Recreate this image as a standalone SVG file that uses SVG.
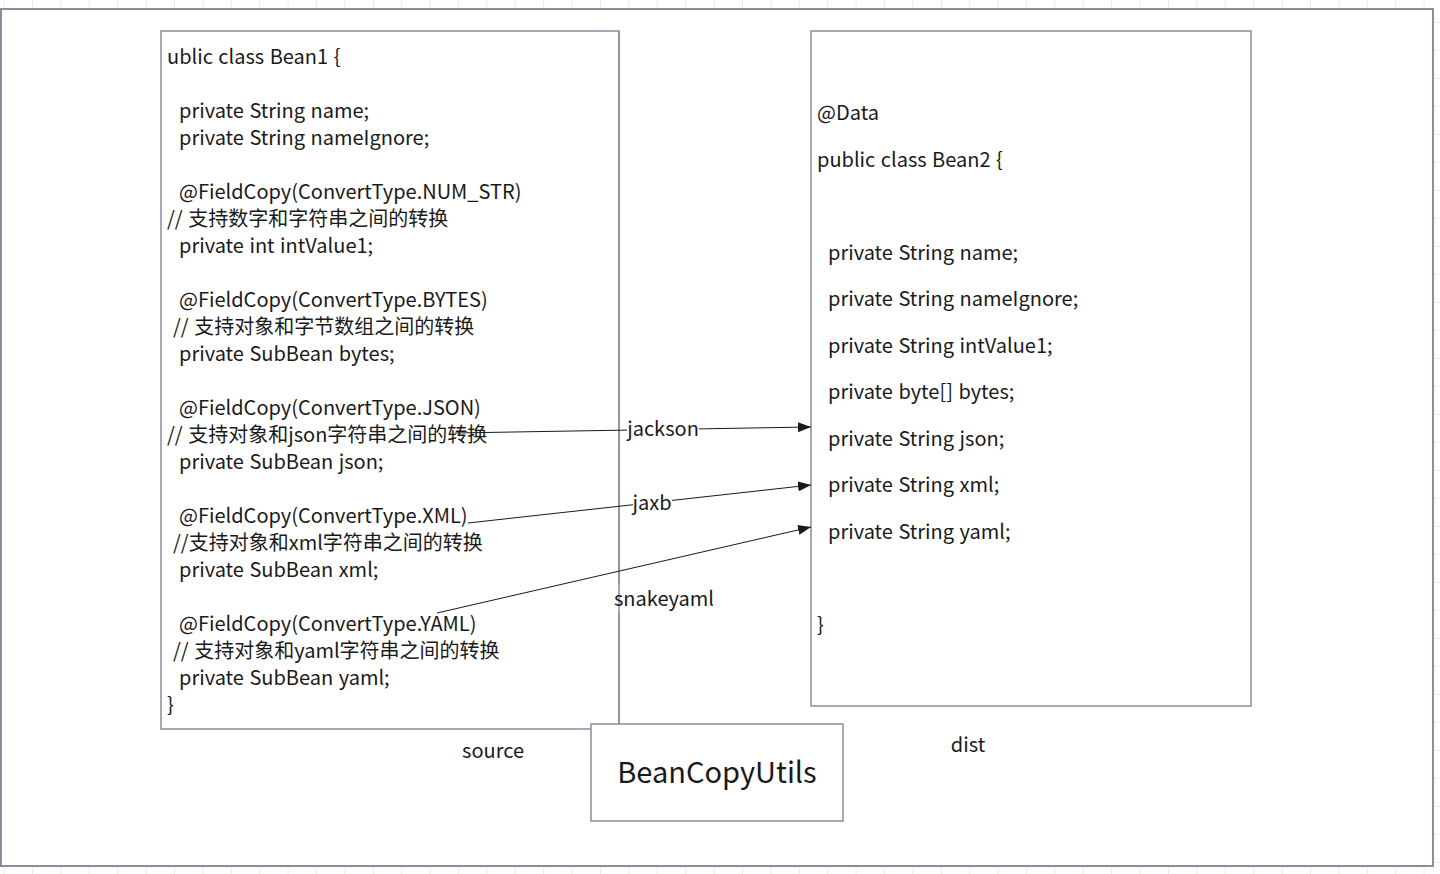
<svg xmlns="http://www.w3.org/2000/svg" width="1440" height="874" viewBox="0 0 1440 874">
<style>
.box{fill:#ffffff;stroke:#8a8ca0;stroke-width:1.5}
.frame{fill:#ffffff;stroke:#8a8ca0;stroke-width:2}
.t{font-family:"Noto Sans CJK SC","Noto Sans",sans-serif;font-size:20px;fill:#1a1a1a;word-spacing:1px}
.big{font-family:"Noto Sans CJK SC","Noto Sans",sans-serif;font-size:29px;fill:#1a1a1a}
.lbl{font-family:"Noto Sans CJK SC","Noto Sans",sans-serif;font-size:20px;fill:#1a1a1a;text-anchor:middle}
.edge{stroke:#1a1a1a;stroke-width:1;fill:none}
.vline{stroke:#8a8ca0;stroke-width:1.5}
.lblbg{fill:#ffffff}
</style>
<defs>
<pattern id="grid" patternUnits="userSpaceOnUse" x="32" y="22" width="28.4" height="28">
<path d="M0 0V28M0 0H28.4" stroke="#e4e4e4" stroke-width="1.5" fill="none"/>
</pattern>
<marker id="arr" markerWidth="14" markerHeight="10" refX="13" refY="5" orient="auto" markerUnits="userSpaceOnUse">
<path d="M0 0L13 5L0 10Z" fill="#1a1a1a"/>
</marker>
</defs>
<rect x="0" y="0" width="1440" height="874" fill="#ffffff"/>
<rect x="0" y="0" width="1440" height="874" fill="url(#grid)"/>
<rect class="frame" x="1" y="9" width="1432" height="857"/>

<g id="source">
<rect class="box" x="161" y="31" width="458" height="698"/>
<text class="t" x="167" y="64">ublic class Bean1 {</text>
<text class="t" x="179" y="118">private String name;</text>
<text class="t" x="179" y="145">private String nameIgnore;</text>
<text class="t" x="179" y="199">@FieldCopy(ConvertType.NUM_STR)</text>
<text class="t" x="167" y="226">// 支持数字和字符串之间的转换</text>
<text class="t" x="179" y="253">private int intValue1;</text>
<text class="t" x="179" y="307">@FieldCopy(ConvertType.BYTES)</text>
<text class="t" x="173" y="334">// 支持对象和字节数组之间的转换</text>
<text class="t" x="179" y="361">private SubBean bytes;</text>
<text class="t" x="179" y="415">@FieldCopy(ConvertType.JSON)</text>
<text class="t" x="167" y="442">// 支持对象和json字符串之间的转换</text>
<text class="t" x="179" y="469">private SubBean json;</text>
<text class="t" x="179" y="523">@FieldCopy(ConvertType.XML)</text>
<text class="t" x="173" y="550">//支持对象和xml字符串之间的转换</text>
<text class="t" x="179" y="577">private SubBean xml;</text>
<text class="t" x="179" y="631">@FieldCopy(ConvertType.YAML)</text>
<text class="t" x="173" y="658">// 支持对象和yaml字符串之间的转换</text>
<text class="t" x="179" y="685">private SubBean yaml;</text>
<text class="t" x="167" y="712">}</text>
</g>

<g id="dist">
<rect class="box" x="811" y="31" width="440" height="675"/>
<text class="t" x="817" y="120">@Data</text>
<text class="t" x="817" y="167">public class Bean2 {</text>
<text class="t" x="828" y="260">private String name;</text>
<text class="t" x="828" y="306">private String nameIgnore;</text>
<text class="t" x="828" y="353">private String intValue1;</text>
<text class="t" x="828" y="399">private byte[] bytes;</text>
<text class="t" x="828" y="446">private String json;</text>
<text class="t" x="828" y="492">private String xml;</text>
<text class="t" x="828" y="539">private String yaml;</text>
<text class="t" x="817" y="632">}</text>
</g>

<g id="beancopyutils">
<rect class="box" x="591" y="724" width="252" height="97"/>
<text class="big" x="717" y="783" text-anchor="middle">BeanCopyUtils</text>
</g>

<g id="labels">
<text class="lbl" x="493" y="758">source</text>
<text class="lbl" x="968" y="752">dist</text>
</g>

<g id="connectors">
<line class="vline" x1="619" y1="31" x2="619" y2="585"/>
<line class="vline" x1="619" y1="613" x2="619" y2="724"/>
<line class="edge" x1="455" y1="433" x2="811" y2="427" marker-end="url(#arr)"/>
<line class="edge" x1="468" y1="523" x2="811" y2="485" marker-end="url(#arr)"/>
<line class="edge" x1="437" y1="613" x2="811" y2="527" marker-end="url(#arr)"/>
<rect class="lblbg" x="627" y="417" width="72" height="24"/>
<text class="lbl" x="663" y="436">jackson</text>
<rect class="lblbg" x="633" y="491" width="39" height="24"/>
<text class="lbl" x="652" y="510">jaxb</text>
<text class="lbl" x="664" y="606">snakeyaml</text>
</g>
</svg>
